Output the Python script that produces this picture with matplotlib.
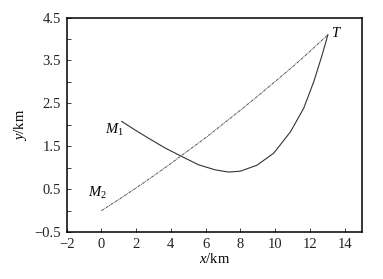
import matplotlib
matplotlib.use("Agg")
import matplotlib.pyplot as plt

plt.rcParams['font.family'] = ['Liberation Serif', 'DejaVu Serif']
plt.rcParams['mathtext.fontset'] = 'custom'
plt.rcParams['mathtext.rm'] = 'Liberation Serif'
plt.rcParams['mathtext.it'] = 'Liberation Serif:italic'

# M1 trajectory
m1_x = [1.17, 1.94, 2.71, 3.67, 4.64, 5.59, 6.56, 7.32, 8.00, 8.96, 9.92, 10.89, 11.65, 12.23, 12.71, 13.04]
m1_y = [2.08, 1.88, 1.69, 1.46, 1.26, 1.07, 0.95, 0.90, 0.92, 1.06, 1.34, 1.84, 2.39, 3.01, 3.63, 4.10]

# M2 trajectory
m2_x = [0, 1, 2, 3, 4, 5, 6, 7, 8, 9, 10, 11, 12, 13.04]
m2_y = [0, 0.26, 0.53, 0.81, 1.10, 1.40, 1.70, 2.02, 2.34, 2.67, 3.01, 3.35, 3.71, 4.10]

x_ticks = [-2, 0, 2, 4, 6, 8, 10, 12, 14]
y_ticks = [-0.5, 0.0, 0.5, 1.0, 1.5, 2.0, 2.5, 3.0, 3.5, 4.0, 4.5]
y_ticklabels = ['\u22120.5', '', '0.5', '', '1.5', '', '2.5', '', '3.5', '', '4.5']

fig = plt.figure(figsize=(3.83, 2.79), dpi=100)
ax = fig.add_axes([0.174, 0.168, 0.771, 0.769])

ax.plot(m1_x, m1_y, color='#333333', lw=0.8, solid_joinstyle='round')
ax.plot(m2_x, m2_y, color='#555555', lw=0.7, dashes=(3, 0.8, 1, 0.8))

ax.set_xlim(-2, 15)
ax.set_ylim(-0.5, 4.5)
ax.set_xticks(x_ticks)
ax.set_xticklabels(['\u22122'] + [str(v) for v in x_ticks[1:]])
ax.set_yticks(y_ticks)
ax.set_yticklabels(y_ticklabels)
ax.tick_params(direction='in', length=3, width=0.6, labelsize=10.5, colors='#222222', pad=4)
for s in ax.spines.values():
    s.set_linewidth(1.1)
    s.set_color('black')

ax.set_xlabel(r'$\mathit{x}$/km', fontsize=10.5, labelpad=1)
ax.set_ylabel(r'$\mathit{y}$/km', fontsize=10.5, labelpad=4)

ax.text(0.73, 1.88, r'$\mathit{M}_1$', fontsize=10.5, ha='center', va='center')
ax.text(-0.25, 0.41, r'$\mathit{M}_2$', fontsize=10.5, ha='center', va='center')
ax.text(13.55, 4.14, r'$\mathit{T}$', fontsize=10.5, ha='center', va='center')

fig.savefig('out.png', dpi=100)
